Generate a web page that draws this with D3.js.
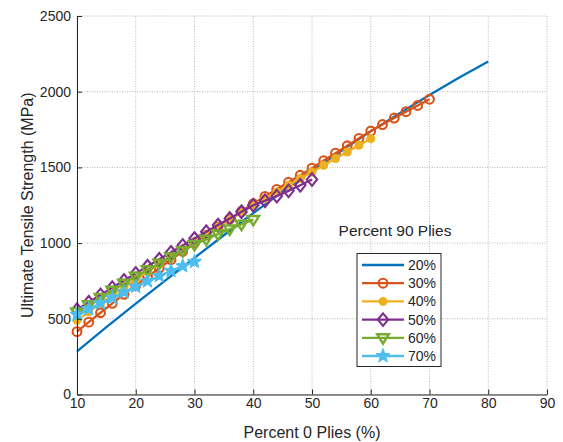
<!DOCTYPE html>
<html><head><meta charset="utf-8">
<script src="https://cdn.jsdelivr.net/npm/d3@7"></script>
<style>
body{margin:0;background:#fff;}
text{font-family:"Liberation Sans",Arial,sans-serif;fill:#262626;}
</style></head>
<body><svg id="c" width="563" height="442"></svg>
<script>
// ---- data ----
const xTicks = [10,20,30,40,50,60,70,80,90];
const yTicks = [0,500,1000,1500,2000,2500];
const legendLabels = ["20%","30%","40%","50%","60%","70%"];
const legendTitle = "Percent 90 Plies";
const xLabel = "Percent 0 Plies (%)";
const yLabel = "Ultimate Tensile Strength (MPa)";

const x20 = [10,15,20,25,30,35,40,45,50,55,60,65,70,75,80];
const y20 = [285,445,600,752,903,1052,1198,1340,1478,1610,1738,1860,1978,2092,2200];

const x30 = [10,12,14,16,18,20,22,24,26,28,30,32,34,36,38,40,42,44,46,48,50,52,54,56,58,60,62,64,66,68,70];
const y30 = [415,478,540,602,662,720,778,835,890,946,1000,1053,1106,1158,1210,1260,1308,1355,1402,1448,1495,1545,1594,1643,1692,1740,1783,1826,1868,1909,1950];

const x40 = [10,12,14,16,18,20,22,24,26,28,30,32,34,36,38,40,42,44,46,48,50,52,54,56,58,60];
const y40 = [490,546,601,655,708,760,811,861,911,961,1010,1058,1106,1154,1202,1250,1294,1338,1382,1426,1470,1514,1558,1602,1646,1690];

const x50 = [10,12,14,16,18,20,22,24,26,28,30,32,34,36,38,40,42,44,46,48,50];
const y50 = [560,609,658,706,753,800,847,893,939,985,1030,1075,1119,1163,1207,1250,1280,1310,1345,1382,1420];

const x60 = [10,12,14,16,18,20,22,24,26,28,30,32,34,36,38,40];
const y60 = [545,593,641,688,734,780,823,866,908,949,990,1025,1059,1092,1124,1155];

const x70 = [10,12,14,16,18,20,22,24,26,28,30];
const y70 = [527,565,602,639,676,712,748,783,817,848,877];

const colors = ["#0072BD","#D95319","#EDB120","#7E2F8E","#77AC30","#4DBEEE"];
const markers = ["none","circle","dot","diamond","triangle","star"];

const series = [[x20,y20],[x30,y30],[x40,y40],[x50,y50],[x60,y60],[x70,y70]].map((s,i)=>({
  pts: s[0].map((v,j)=>[v,s[1][j]]), color: colors[i], marker: markers[i], label: legendLabels[i]
}));

// ---- layout ----
const L=77, R=547, T=16, B=394.5;
const x = d3.scaleLinear().domain([10,90]).range([L,R]);
const y = d3.scaleLinear().domain([0,2500]).range([B,T]);
const svg = d3.select("#c");

// grid
const grid = svg.append("g").attr("stroke","#b8b8b8").attr("stroke-width",1).attr("stroke-dasharray","1,1.5");
xTicks.forEach(t=>grid.append("line").attr("x1",x(t)).attr("x2",x(t)).attr("y1",B).attr("y2",T));
yTicks.forEach(t=>grid.append("line").attr("x1",L).attr("x2",R).attr("y1",y(t)).attr("y2",y(t)));

// markers
function starPath(ro, ri){
  let p="";
  for(let k=0;k<10;k++){
    const r = k%2? ri: ro;
    const a = -Math.PI/2 + k*Math.PI/5;
    p += (k?"L":"M")+(r*Math.cos(a)).toFixed(2)+","+(r*Math.sin(a)).toFixed(2);
  }
  return p+"Z";
}
function drawMarker(g, type, cx, cy, color){
  if(type==="circle"){
    g.append("circle").attr("cx",cx).attr("cy",cy).attr("r",4.4)
     .attr("fill","none").attr("stroke",color).attr("stroke-width",2.1);
  } else if(type==="dot"){
    g.append("circle").attr("cx",cx).attr("cy",cy).attr("r",4.5).attr("fill",color);
  } else if(type==="diamond"){
    g.append("path").attr("transform",`translate(${cx},${cy})`)
     .attr("d","M0,-6.3L5.2,0L0,6.3L-5.2,0Z").attr("fill","none").attr("stroke",color).attr("stroke-width",2.1);
  } else if(type==="triangle"){
    g.append("path").attr("transform",`translate(${cx},${cy})`)
     .attr("d","M-5.8,-3.6L5.8,-3.6L0,5.8Z").attr("fill","none").attr("stroke",color).attr("stroke-width",2.4).attr("stroke-linejoin","miter");
  } else if(type==="star"){
    g.append("path").attr("transform",`translate(${cx},${cy})`)
     .attr("d",starPath(7.4,3.1)).attr("fill",color).attr("stroke",color).attr("stroke-width",1);
  }
}

const line = d3.line().x(d=>x(d[0])).y(d=>y(d[1]));
const plot = svg.append("g");
series.forEach(s=>{
  const g = plot.append("g");
  g.append("path").attr("d",line(s.pts)).attr("fill","none").attr("stroke",s.color).attr("stroke-width",2.3);
  if(s.marker!=="none") s.pts.forEach(p=>drawMarker(g,s.marker,x(p[0]),y(p[1]),s.color));
});

// axes
const ax = svg.append("g").attr("transform",`translate(0,${B})`)
  .call(d3.axisBottom(x).tickValues(xTicks).tickFormat(d3.format("d")).tickSizeInner(-5).tickSizeOuter(0).tickPadding(4));
const ay = svg.append("g").attr("transform",`translate(${L},0)`)
  .call(d3.axisLeft(y).tickValues(yTicks).tickFormat(d3.format("d")).tickSizeInner(-5).tickSizeOuter(0).tickPadding(6));
[ax,ay].forEach(a=>{
  a.selectAll("path,line").attr("stroke","#262626").attr("stroke-width",1);
  a.selectAll("text").attr("font-size",14).attr("fill","#262626").attr("font-family","Liberation Sans, Arial, sans-serif");
});

svg.append("text").attr("x",(L+R)/2).attr("y",432).attr("dy","0.35em").attr("text-anchor","middle")
  .attr("font-size",16).text(xLabel);
svg.append("text").attr("transform",`translate(27,${(T+B)/2}) rotate(-90)`).attr("dy","0.35em")
  .attr("text-anchor","middle").attr("font-size",16).text(yLabel);

// legend title
svg.append("text").attr("x",395).attr("y",231).attr("dy","0.35em").attr("text-anchor","middle")
  .attr("font-size",15.5).text(legendTitle);

// legend
const lg = svg.append("g");
lg.append("rect").attr("x",357).attr("y",253.5).attr("width",84).attr("height",113)
  .attr("fill","#fff").attr("stroke","#262626").attr("stroke-width",1);
series.forEach((s,i)=>{
  const ry = 265 + i*18.2;
  lg.append("line").attr("x1",362).attr("x2",404).attr("y1",ry).attr("y2",ry).attr("stroke",s.color).attr("stroke-width",2.3);
  if(s.marker!=="none") drawMarker(lg,s.marker,383,ry,s.color);
  lg.append("text").attr("x",408).attr("y",ry).attr("dy","0.35em").attr("font-size",14).text(s.label);
});
</script></body></html>
